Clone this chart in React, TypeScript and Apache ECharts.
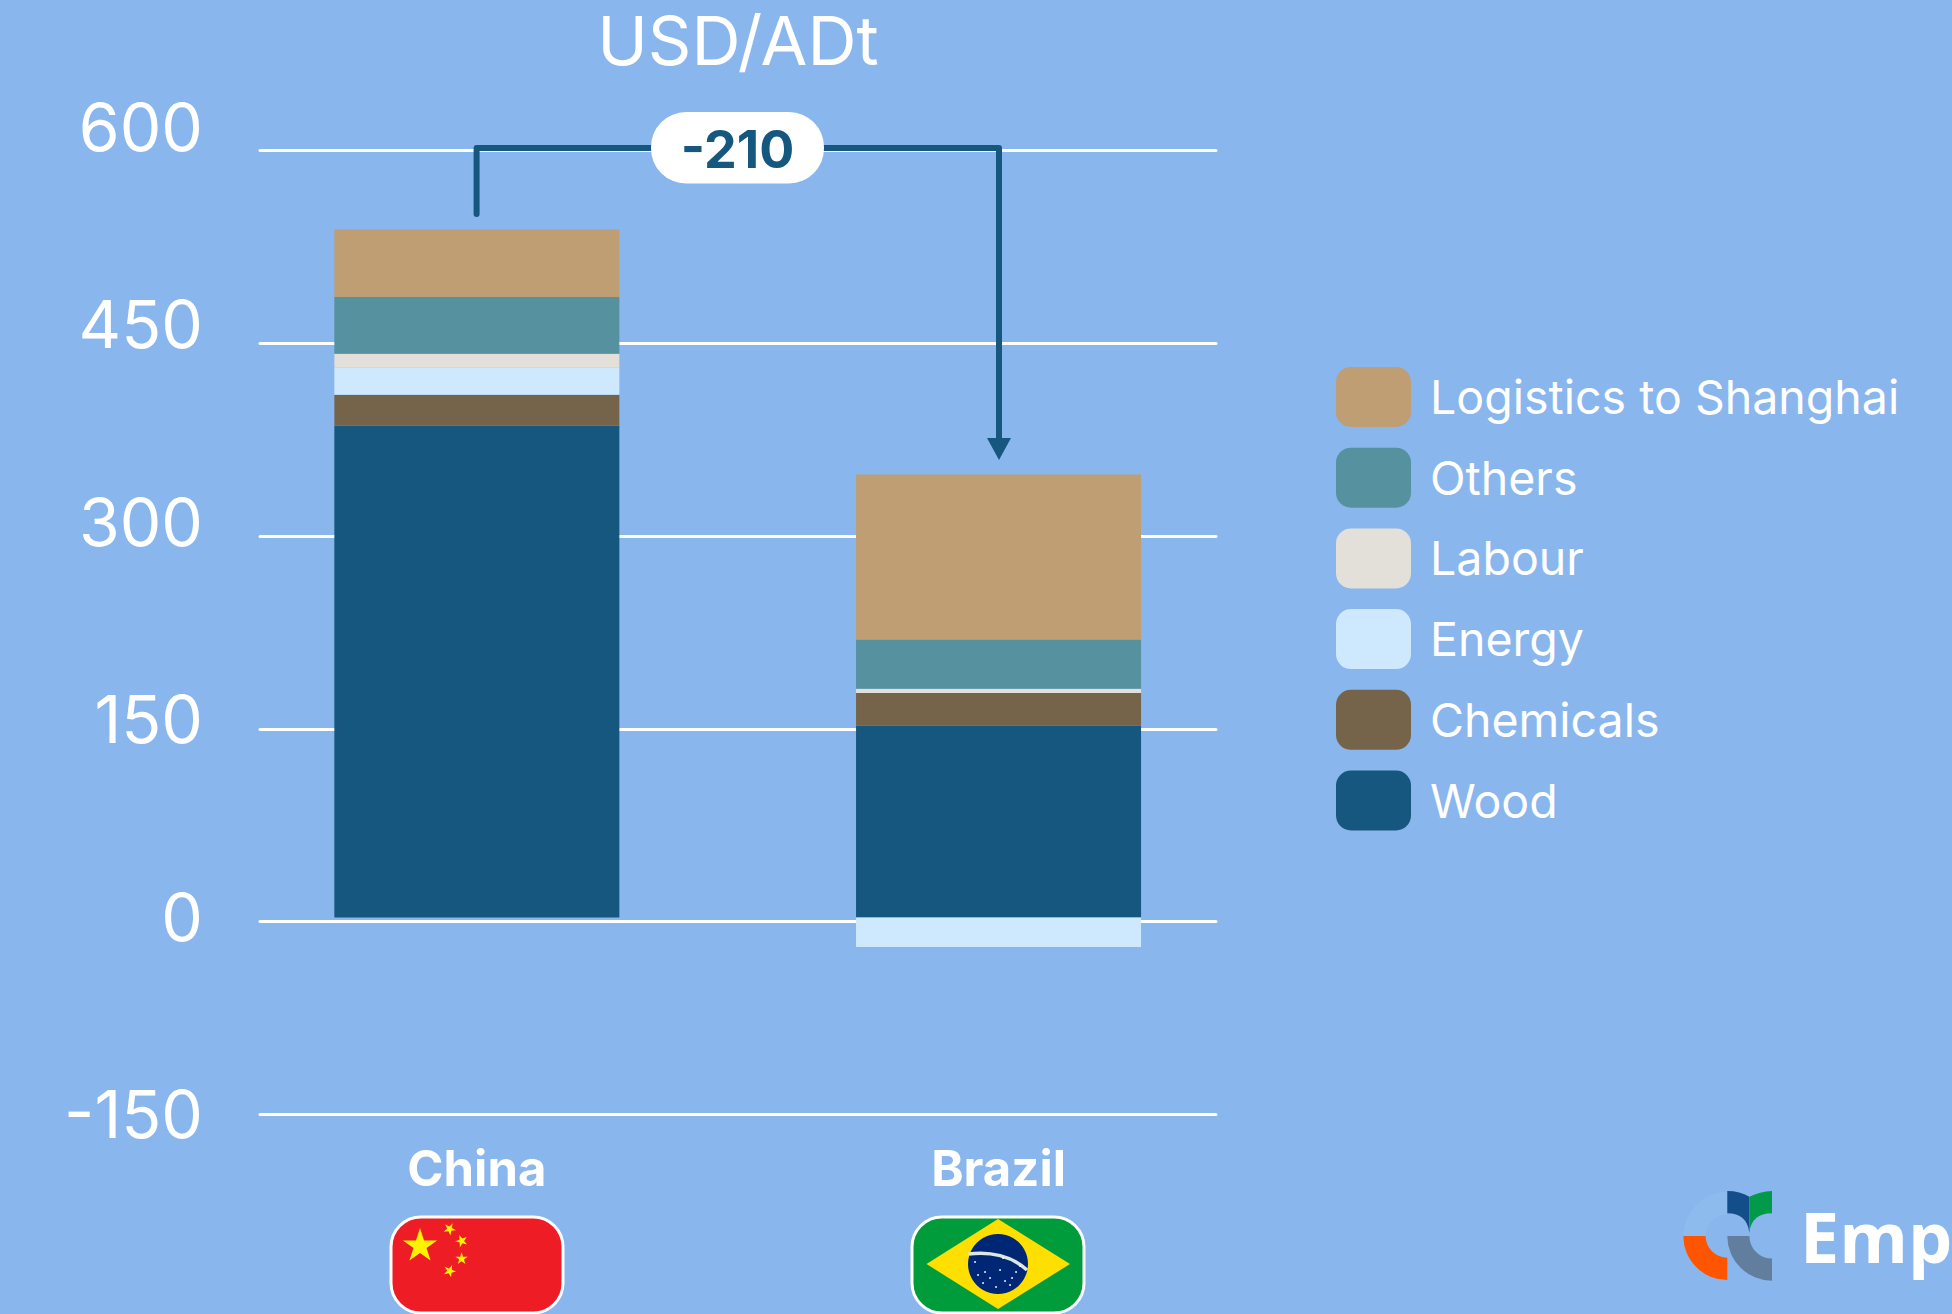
import React, { useEffect, useRef } from "react";
import * as echarts from "echarts";

const categories = ["China", "Brazil"];
const yTicks = { min: -150, max: 600, interval: 150 };
const wood = [382.5, 149.3];
const chemicals = [24, 25.3];
const energy = [21, -22.9];
const labour = [11, 3.4];
const others = [44, 38.3];
const logistics = [52.5, 128.3];
const gapLabel = "-210";
const unitLabel = "USD/ADt";
const brandLabel = "Emp";

const FONT = "Inter";
const BLUE = "#16577F";
const BG = "#89B6EC";

echarts.graphic.registerShape(
  "petalBlue",
  echarts.graphic.extendPath("M1727.3 1191 Q1740 1191 1749.3 1196.7 L1749.3 1232.7 Q1747 1213.3 1727.3 1213.3 Z", {})
);
echarts.graphic.registerShape(
  "petalGreen",
  echarts.graphic.extendPath("M1772 1191 Q1760 1191.7 1749.3 1196.7 L1749.3 1232.7 Q1751.6 1213.3 1772 1213.3 Z", {})
);

// Five-pointed star as a polygon outline
const star = (cx: number, cy: number, r: number, rot = 0) => {
  const pts: number[][] = [];
  for (let i = 0; i < 10; i++) {
    const rad = i % 2 === 0 ? r : r * 0.382;
    const a = -Math.PI / 2 + rot + (i * Math.PI) / 5;
    pts.push([cx + rad * Math.cos(a), cy + rad * Math.sin(a)]);
  }
  return { type: "polygon", shape: { points: pts }, style: { fill: "#FFF200" } };
};

const chinaFlag = () => [
  { type: "rect", shape: { x: 391, y: 1217, width: 172, height: 96, r: 30 }, style: { fill: "#EE1C25", stroke: "#fff", lineWidth: 3 } },
  star(420, 1246, 18),
  star(449.6, 1229, 6.5, 0.5),
  star(461.6, 1241, 6.5, 0.9),
  star(461.6, 1258.7, 6.5, 0),
  star(449.6, 1271, 6.5, 0.4),
];

const brazilStars = [
  [985, 1272], [990, 1278], [978, 1275], [1000, 1270], [1005, 1281], [1012, 1278], [1016, 1272],
  [1010, 1285], [996, 1287], [983, 1283], [1020, 1266], [975, 1262], [1003, 1258],
];

const brazilFlag = () => [
  { type: "rect", shape: { x: 912, y: 1217, width: 172, height: 96, r: 30 }, style: { fill: "#009B3A", stroke: "#fff", lineWidth: 3 } },
  { type: "polygon", shape: { points: [[998, 1219], [1070, 1264], [998, 1309], [926.5, 1264]] }, style: { fill: "#FEDF00" } },
  { type: "circle", shape: { cx: 998, cy: 1264, r: 30 }, style: { fill: "#002776" } },
  { type: "bezierCurve", shape: { x1: 968.5, y1: 1254, x2: 1027, y2: 1270, cpx1: 990, cpy1: 1251, cpx2: 1012, cpy2: 1256 }, style: { stroke: "#DDE8E0", lineWidth: 3.5, fill: "none" } },
  ...brazilStars.map(([cx, cy]) => ({ type: "circle", shape: { cx, cy, r: 0.9 }, style: { fill: "#fff" } })),
];

// Bracket from the China bar across to the arrow over the Brazil bar, broken by the pill
const gapBracket = () => [
  { type: "polyline", shape: { points: [[476.6, 214], [476.6, 148], [660, 148]] }, style: { stroke: BLUE, lineWidth: 6, lineCap: "round", lineJoin: "round", fill: "none" } },
  { type: "polyline", shape: { points: [[815, 148], [999, 148], [999, 442]] }, style: { stroke: BLUE, lineWidth: 6, lineCap: "round", lineJoin: "round", fill: "none" } },
  { type: "polygon", shape: { points: [[987, 438], [1011, 438], [999, 460]] }, style: { fill: BLUE } },
  { type: "rect", shape: { x: 651, y: 112, width: 173, height: 71.5, r: 35 }, style: { fill: "#fff" } },
  { type: "text", x: 737.5, y: 149, style: { text: gapLabel, fill: BLUE, font: `700 52px ${FONT}`, textAlign: "center", textVerticalAlign: "middle" } },
];

const brandLogo = () => [
  { type: "sector", shape: { cx: 1727.3, cy: 1236, r: 44, r0: 21.7, startAngle: Math.PI, endAngle: Math.PI * 1.5 }, style: { fill: "#8EBBEE" } },
  { type: "sector", shape: { cx: 1727.3, cy: 1236, r: 44, r0: 21.7, startAngle: Math.PI / 2, endAngle: Math.PI }, style: { fill: "#FF5500" } },
  { type: "sector", shape: { cx: 1772, cy: 1236, r: 44.7, r0: 22.6, startAngle: Math.PI / 2, endAngle: Math.PI }, style: { fill: "#627E9F" } },
  { type: "petalBlue", style: { fill: "#134E8A" } },
  { type: "petalGreen", style: { fill: "#009A4A" } },
  { type: "text", x: 1800, y: 1236, style: { text: brandLabel, fill: "#fff", font: `700 70px "Open Sans"`, textAlign: "left", textVerticalAlign: "middle" } },
];

// A group's z does not reach its children, so each drawn element carries its own
const onTop = (elements: any[]) => elements.map((el, i) => ({ ...el, z: 10, z2: i }));

const stackSeries = (name: string, data: number[], color: string) => ({
  name,
  type: "bar",
  stack: "cost",
  xAxisIndex: 1,
  yAxisIndex: 1,
  barWidth: 285,
  data,
  itemStyle: { color },
});

export default function App() {
  const ref = useRef<HTMLDivElement>(null);

  useEffect(() => {
    document.body.style.margin = "0";
    document.documentElement.style.overflow = "hidden";
    const chart = echarts.init(ref.current!, null, { renderer: "svg" });
    chart.setOption({
      animation: false,
      backgroundColor: BG,
      title: {
        text: unitLabel,
        left: 733,
        top: 1,
        textAlign: "center",
        textStyle: { color: "#fff", fontFamily: FONT, fontWeight: 400, fontSize: 68 },
      },
      // Three overlaid grids: gridlines, bars and tick labels each have their own placement
      grid: [
        { left: 260, top: 150.5, width: 956, height: 964 },
        { left: 216, top: 146, width: 1043.4, height: 964.5 },
        { left: 259, top: 127, width: 958, height: 987 },
      ],
      xAxis: [
        { type: "value", gridIndex: 0, show: false },
        {
          type: "category",
          gridIndex: 1,
          data: categories,
          axisLine: { show: false },
          axisTick: { show: false },
          axisLabel: { color: "#fff", fontFamily: FONT, fontWeight: 700, fontSize: 49, margin: 33 },
        },
        { type: "value", gridIndex: 2, show: false },
      ],
      yAxis: [
        {
          type: "value",
          gridIndex: 0,
          ...yTicks,
          axisLine: { show: false },
          axisTick: { show: false },
          axisLabel: { show: false },
          splitLine: { show: true, lineStyle: { color: "#fff", width: 3, cap: "round" } },
        },
        {
          type: "value",
          gridIndex: 1,
          ...yTicks,
          axisLine: { show: false },
          axisTick: { show: false },
          axisLabel: { show: false },
          splitLine: { show: false },
        },
        {
          type: "value",
          gridIndex: 2,
          ...yTicks,
          axisLine: { show: false },
          axisTick: { show: false },
          splitLine: { show: false },
          axisLabel: { color: "#fff", fontFamily: FONT, fontWeight: 400, fontSize: 66, margin: 56 },
        },
      ],
      legend: {
        orient: "vertical",
        left: 1331,
        top: 362,
        itemWidth: 75,
        itemHeight: 60,
        itemGap: 20.7,
        icon: "roundRect",
        selectedMode: false,
        data: ["Logistics to Shanghai", "Others", "Labour", "Energy", "Chemicals", "Wood"],
        textStyle: { color: "#fff", fontFamily: FONT, fontWeight: 400, fontSize: 46.5, padding: [3, 0, 0, 14] },
      },
      series: [
        stackSeries("Wood", wood, "#16577F"),
        stackSeries("Chemicals", chemicals, "#75644A"),
        stackSeries("Energy", energy, "#CEE9FD"),
        stackSeries("Labour", labour, "#E2E0D8"),
        stackSeries("Others", others, "#5691A0"),
        stackSeries("Logistics to Shanghai", logistics, "#BE9E72"),
      ],
      graphic: {
        elements: [
          ...onTop(gapBracket()),
          ...onTop(chinaFlag()),
          ...onTop(brazilFlag()),
          ...onTop(brandLogo()),
        ],
      },
    });
    return () => chart.dispose();
  }, []);

  return <div ref={ref} style={{ width: 1952, height: 1314 }} />;
}
